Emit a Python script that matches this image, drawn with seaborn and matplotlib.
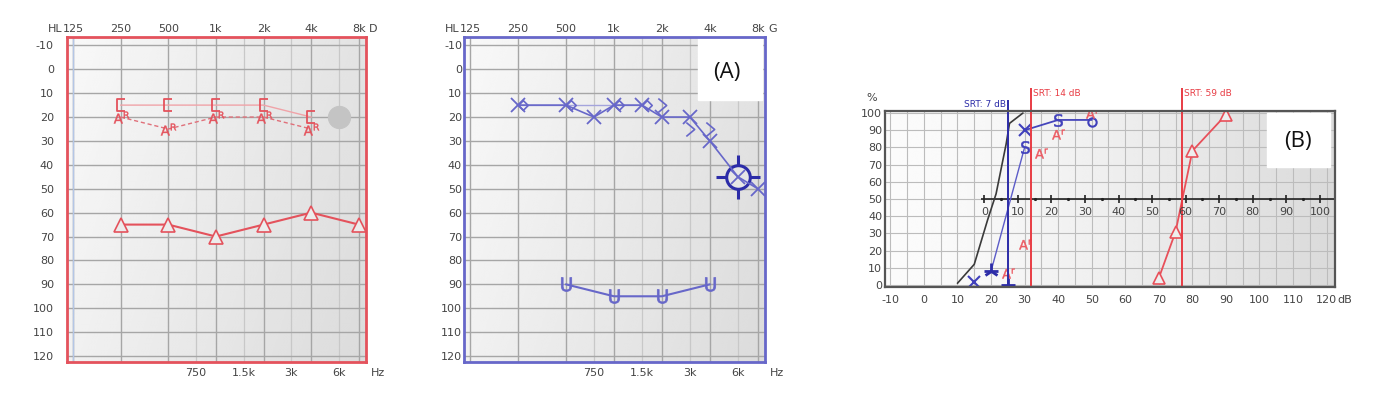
import numpy as np
import matplotlib
matplotlib.use("Agg")
import matplotlib.pyplot as plt
from matplotlib.path import Path
from matplotlib.patches import Rectangle
from matplotlib.ticker import NullLocator
import seaborn as sns

sns.set_style("white")
plt.rcParams["font.family"] = ["DejaVu Sans"]
plt.rcParams["axes.unicode_minus"] = False

# audiogram axes
oct_freqs = [125, 250, 500, 1000, 2000, 4000, 8000]
oct_labels = ["125", "250", "500", "1k", "2k", "4k", "8k"]
half_freqs = [750, 1500, 3000, 6000]
half_labels = ["750", "1.5k", "3k", "6k"]
db_ticks = list(range(-10, 130, 10))

# right ear (D)
r_bone_f = [250, 500, 1000, 2000, 4000]
r_bone_db = [15, 15, 15, 15, 20]
r_aided_f = [250, 500, 1000, 2000, 4000]
r_aided_db = [20, 25, 20, 20, 25]
r_air_f = [250, 500, 1000, 2000, 4000, 8000]
r_air_db = [65, 65, 70, 65, 60, 65]
r_dot_f = [6000]
r_dot_db = [20]

# left ear (G)
l_air_f = [250, 500, 750, 1000, 1500, 2000, 3000, 4000, 6000, 8000]
l_air_db = [15, 15, 20, 15, 15, 20, 20, 30, 45, 50]
l_sf_f = [250, 500, 1000, 1500]
l_sf_db = [15, 15, 15, 15]
l_bone_f = [2000, 3000, 4000]
l_bone_db = [15, 25, 25]
l_ucl_f = [500, 1000, 2000, 4000]
l_ucl_db = [90, 95, 95, 90]
l_cursor_f = [6000]
l_cursor_db = [45]

# speech audiogram
speech_xticks = list(range(-10, 130, 10))
pct_ticks = list(range(0, 110, 10))
inner_ticks = list(range(0, 110, 10))
srt_offset = 18
srt_vals = [7, 14, 59]
srt_labels = ["SRT: 7 dB", "SRT: 14 dB", "SRT: 59 dB"]
norm_db = [10, 15, 19, 21.5, 24.5, 25.5, 29.5]
norm_pct = [1, 12, 38, 53, 82, 94, 100]
b_rise_db = [20, 30]
b_rise_pct = [8, 80]
b_top_db = [30, 40, 50]
b_top_pct = [90, 96, 96]
b_x_db = [15, 30]
b_x_pct = [2, 90]
b_s_db = [30, 40]
b_s_pct = [80, 96]
b_o_db = [50]
b_o_pct = [95]
b_star_db = [20]
b_star_pct = [8]
b_plus_db = [25]
b_plus_pct = [0]
r_a_db = [25, 30, 35, 40, 50]
r_a_pct = [7, 24, 77, 88, 100]
r_tri_db = [70, 75, 80, 90]
r_tri_pct = [4, 31, 78, 99]

RED = "#e4525c"
RED_LIGHT = "#f0a3a8"
BLUE = "#6767c9"
BLUE_DARK = "#2c2ca8"
TXT = "#444444"

M, L = Path.MOVETO, Path.LINETO
bracket = Path([(0.3, 0.5), (-0.3, 0.5), (-0.3, -0.5), (0.3, -0.5)], [M, L, L, L])
chevron = Path([(-0.3, 0.5), (0.3, 0.0), (-0.3, -0.5)], [M, L, L])
diamond = Path([(0, 0), (0.4, 0.4), (0.8, 0), (0.4, -0.4), (0, 0)], [M, L, L, L, L])

fig = plt.figure(figsize=(14, 3.96), dpi=100)

gx, gy = np.meshgrid(np.linspace(0, 1, 200), np.linspace(0, 1, 200))
aud_grad = 0.975 - 0.085 * gx - 0.03 * gy
speech_grad = 0.985 - 0.13 * gx ** 1.4


def make_axes(rect, grad):
    bg = fig.add_axes(rect, zorder=0)
    bg.imshow(grad, cmap="gray", vmin=0, vmax=1, aspect="auto",
              extent=(0, 1, 0, 1), interpolation="bicubic")
    bg.axis("off")
    ax = fig.add_axes(rect, zorder=1)
    ax.set_facecolor("none")
    return ax


def line(ax, x, y, **kw):
    sns.lineplot(x=x, y=y, ax=ax, estimator=None, sort=False, **kw)


def audiogram_frame(ax, spine_color, ypad, side):
    ax.set_xlim(125 * 2 ** -0.125, 8000 * 2 ** 0.15)
    ax.set_ylim(122.5, -13.5)
    ax.set_xticks(oct_freqs, oct_labels)
    ax.set_xticks(half_freqs, half_labels, minor=True)
    ax.set_yticks(db_ticks, [str(v) for v in db_ticks])
    ax.yaxis.set_minor_locator(NullLocator())
    ax.tick_params(which="major", axis="x", top=True, labeltop=True,
                   bottom=False, labelbottom=False, pad=2)
    ax.tick_params(which="minor", axis="x", top=False, labeltop=False,
                   bottom=True, labelbottom=True, pad=4.3)
    ax.tick_params(axis="y", pad=ypad)
    ax.tick_params(which="both", length=0, labelsize=8, labelcolor=TXT)
    ax.grid(which="major", color="#a6a6a6", lw=1)
    ax.grid(which="minor", axis="x", color="#c8c8c8", lw=0.9)
    ax.set_axisbelow(True)
    ax.set_xlabel("")
    ax.set_ylabel("")
    for s in ax.spines.values():
        s.set_color(spine_color)
        s.set_linewidth(2)
    xt = ax.get_xaxis_transform()
    ax.annotate("HL", (125, 1), xycoords=xt, xytext=(-7.6, 2), textcoords="offset points",
                ha="right", va="bottom", fontsize=8, color=TXT)
    ax.annotate(side, (8000, 1), xycoords=xt, xytext=(7.5, 2), textcoords="offset points",
                ha="left", va="bottom", fontsize=8, color=TXT)
    ax.annotate("Hz", (8000, 0), xycoords=xt, xytext=(14, -4.3), textcoords="offset points",
                ha="center", va="top", fontsize=8, color=TXT)


# ---- right ear audiogram
ax1 = make_axes([67 / 1400, 34 / 396, 299 / 1400, 325 / 396], aud_grad)
ax1.set_xscale("log", base=2)
ax1.axvline(125, color="#b4c6e6", lw=1, zorder=0.6)
line(ax1, r_dot_f, r_dot_db, ls="none", marker="o", ms=16, mfc="#c4c4c4", mec="#c4c4c4", color="#c4c4c4")
line(ax1, r_bone_f, r_bone_db, color=RED_LIGHT, lw=1, marker=bracket, ms=8.5,
     mfc="none", mec=RED, mew=1.3)
line(ax1, r_aided_f, r_aided_db, color="#e0707a", lw=1, linestyle=(0, (3, 2)),
     marker=r"$\mathsf{A^R}$", ms=11, mec=RED, mfc=RED, mew=0.3)
line(ax1, r_air_f, r_air_db, color=RED, lw=1.5, marker="^", ms=10, mfc="#ececec", mec=RED, mew=1.2)
audiogram_frame(ax1, RED, 9.4, "D")

# ---- left ear audiogram
ax2 = make_axes([464 / 1400, 34 / 396, 301 / 1400, 325 / 396], aud_grad)
ax2.set_xscale("log", base=2)
ax2.add_patch(Rectangle((0.777, 0.806), 0.213, 0.191, transform=ax2.transAxes,
                        color="white", zorder=1.5))
ax2.text(0.874, 0.892, "(A)", transform=ax2.transAxes, fontsize=16, ha="center",
         va="center", family="Open Sans", color="#111111", zorder=1.6)
line(ax2, l_sf_f, l_sf_db, color="#a4a4dc", lw=1, marker=diamond, ms=14, mfc="none", mec=BLUE, mew=1.2)
line(ax2, l_bone_f, l_bone_db, ls="none", marker=chevron, ms=10, mfc="none", mec=BLUE, mew=1.2, color=BLUE)
line(ax2, l_ucl_f, l_ucl_db, color=BLUE, lw=1.5, marker=r"$\mathsf{U}$", ms=10, mec=BLUE, mfc=BLUE, mew=0.5)
line(ax2, l_cursor_f, l_cursor_db, ls="none", marker="+", ms=32, mew=2.2, mec=BLUE_DARK, color=BLUE_DARK)
line(ax2, l_cursor_f, l_cursor_db, ls="none", marker="o", ms=17, mew=2.2, mec=BLUE_DARK,
     mfc="#e6e6e6", color=BLUE_DARK)
line(ax2, l_air_f, l_air_db, color=BLUE, lw=1.2, marker="x", ms=9.5, mec=BLUE, mew=1.3)
audiogram_frame(ax2, BLUE, 1.4, "G")

# ---- speech audiogram
ax3 = make_axes([885 / 1400, 109 / 396, 450 / 1400, 176 / 396], speech_grad)
ax3.set_xticks(speech_xticks, [str(v) for v in speech_xticks])
ax3.set_xticks(np.arange(-10, 125, 5), minor=True)
ax3.set_yticks(pct_ticks, [str(v) for v in pct_ticks])
ax3.tick_params(which="both", length=0, labelsize=8, labelcolor=TXT)
ax3.tick_params(axis="x", pad=5.8)
ax3.tick_params(axis="y", pad=2)
ax3.grid(which="both", axis="x", color="#bcbcbc", lw=0.8)
ax3.grid(which="major", axis="y", color="#bcbcbc", lw=0.8)
ax3.set_axisbelow(True)
for s in ax3.spines.values():
    s.set_color("#555555")
    s.set_linewidth(1.6)

ax3.add_patch(Rectangle((0.849, 0.682), 0.14, 0.307, transform=ax3.transAxes,
                        color="white", zorder=1.5))
ax3.text(0.918, 0.824, "(B)", transform=ax3.transAxes, fontsize=16, ha="center",
         va="center", family="Open Sans", color="#111111", zorder=1.6)

# relative scale on the 50 % line
inner_x = [t + srt_offset for t in inner_ticks]
ax3.hlines(50, srt_offset - 1, 123, color="#222222", lw=1.2, zorder=2)
line(ax3, inner_x, [50] * len(inner_x), ls="none", marker="|", ms=6, mew=1.2, mec="#222222", color="#222222")
line(ax3, [x + 5 for x in inner_x], [50] * len(inner_x), ls="none", marker=".", ms=3,
     mec="#222222", mfc="#222222", color="#222222")
for t, x in zip(inner_ticks, inner_x):
    ax3.annotate(str(t), (x, 50), xytext=(0, -9.4), textcoords="offset points",
                 ha="center", va="center", fontsize=8, color=TXT)

# SRT lines
srt_cols = [BLUE_DARK, "#e83c44", "#e83c44"]
srt_tops = [107.5, 114.5, 114.5]
for val, lab, col, top in zip(srt_vals, srt_labels, srt_cols, srt_tops):
    x = val + srt_offset
    ax3.vlines(x, -1.2, top, color=col, lw=1.4, clip_on=False, zorder=2.5)
    if col == BLUE_DARK:
        ax3.annotate(lab, (x, 105.2), xytext=(-1.5, 0), textcoords="offset points",
                     ha="right", va="center", fontsize=6.5, color=col, annotation_clip=False)
    else:
        ax3.annotate(lab, (x, 111.6), xytext=(1.5, 0), textcoords="offset points",
                     ha="left", va="center", fontsize=6.5, color=col, annotation_clip=False)

line(ax3, norm_db, norm_pct, color="#3a3a3a", lw=1.2)
line(ax3, b_rise_db, b_rise_pct, color="#5c5cc8", lw=1)
line(ax3, b_top_db, b_top_pct, color="#4545bb", lw=1.3)
line(ax3, b_x_db, b_x_pct, ls="none", marker="x", ms=8, mew=1.5, mec="#4040bb", color="#4040bb")
line(ax3, b_s_db, b_s_pct, ls="none", marker=r"$\mathsf{S}$", ms=9, mew=0.4, mec="#4040bb",
     mfc="#4040bb", color="#4040bb")
line(ax3, b_o_db, b_o_pct, ls="none", marker="o", ms=6, mew=1.5, mec="#4040bb", mfc="none", color="#4040bb")
line(ax3, b_star_db, b_star_pct, ls="none", marker="2", ms=11, mew=2, mec=BLUE_DARK, color=BLUE_DARK)
line(ax3, b_star_db, b_star_pct, ls="none", marker="_", ms=10, mew=2, mec=BLUE_DARK, color=BLUE_DARK)
line(ax3, b_plus_db, b_plus_pct, ls="none", marker="+", ms=10, mew=2, mec=BLUE_DARK, color=BLUE_DARK)
line(ax3, r_a_db, r_a_pct, ls="none", marker=r"$\mathsf{A^r}$", ms=9, mew=0.3, mec="#ec5a62",
     mfc="#ec5a62", color="#ec5a62")
line(ax3, r_tri_db, r_tri_pct, color="#e8505a", lw=1.3, marker="^", ms=8, mfc="#eeeeee",
     mec="#e8505a", mew=1.2)

ax3.set_xlim(-11.6, 122.5)
ax3.set_ylim(-1.2, 101.2)
ax3.set_xlabel("")
ax3.set_ylabel("")
ax3.text(-0.029, 1.074, "%", transform=ax3.transAxes, ha="center", va="center", fontsize=8, color=TXT)
ax3.annotate("dB", (120, 0), xycoords=ax3.get_xaxis_transform(), xytext=(7.8, -5.8),
             textcoords="offset points", ha="left", va="top", fontsize=8, color=TXT)

fig.savefig("out.png", dpi=100)
